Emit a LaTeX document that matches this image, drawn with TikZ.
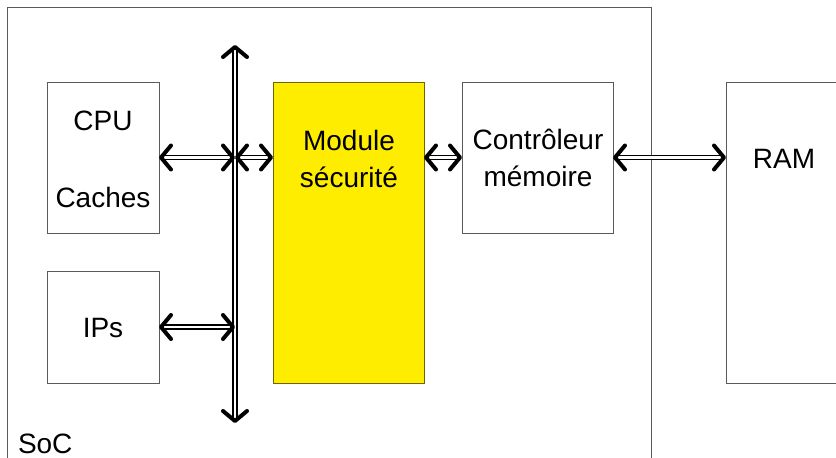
\documentclass[tikz,border=0pt]{standalone}
\usepackage{fontspec}
\setmainfont{Liberation Sans}
\usetikzlibrary{arrows.meta,calc}
\definecolor{boxline}{RGB}{90,90,90}
\definecolor{secline}{RGB}{110,100,0}
\definecolor{secyellow}{RGB}{255,237,0}
\newcommand\dblconn[2]{%
  \draw[shaft] (#1) -- (#2);
  \path[tipsend] (#1) -- (#2);}
\begin{document}
\begin{tikzpicture}[x=1pt,y=-1pt,
  every node/.style={font=\fontsize{28}{37}\selectfont, inner sep=0pt, outer sep=0pt},
  blk/.style={draw=boxline, line width=1pt, fill=white},
  txt/.style={align=center, text=black},
  shaft/.style={double=white, double distance=2.2pt, line width=1.7pt, draw=black,
    shorten <=3pt, shorten >=3pt},
  tipsend/.style={draw=none, black, line width=4pt, tips,
    >={Straight Barb[length=10pt,width=24pt,line width=4pt 0 1,round]}, <->},
]
\useasboundingbox (0,0) rectangle (836,458);
\clip (0,0) rectangle (836,458);
% SoC frame
\node[blk, anchor=north west, minimum width=644pt, minimum height=470pt] (soc) at (7.5,7.5) {};
\node[txt, anchor=base west] (soclbl) at (18,453) {SoC};
% blocks
\node[blk, anchor=north west, minimum width=112pt, minimum height=151pt] (cpu) at (47,82) {};
\node[txt] (cputxt) at (103,121) {CPU};
\node[txt] (cachtxt) at (103,197) {Caches};
\node[blk, anchor=north west, minimum width=112pt, minimum height=112pt] (ips) at (47,271) {};
\node[txt] (ipstxt) at (103,328) {IPs};
\node[blk, draw=secline, fill=secyellow, anchor=north west, minimum width=151pt, minimum height=301pt] (sec) at (273,82) {};
\node[txt] (sectxt) at (349,159) {Module\\sécurité};
\node[blk, anchor=north west, minimum width=151pt, minimum height=151pt] (mc) at (462,82) {};
\node[txt] (mctxt) at (538,158) {Contrôleur\\mémoire};
\node[blk, anchor=north west, minimum width=140pt, minimum height=301pt] (ram) at (726,82) {};
\node[txt] (ramtxt) at (784,159) {RAM};
% bus
\coordinate (bustop) at (235,45);
\coordinate (busbot) at (235,423);
\coordinate (bcpu) at (bustop |- cpu.east);
\coordinate (bips) at (bustop |- ips.east);
\coordinate (secw) at (sec.west |- cpu.east);
\coordinate (sece) at (sec.east |- mc.west);
\coordinate (ramw) at (ram.west |- mc.east);
\dblconn{bustop}{busbot}
% connectors
\dblconn{cpu.east}{bcpu}
\dblconn{bcpu}{secw}
\dblconn{ips.east}{bips}
\dblconn{sece}{mc.west}
\dblconn{mc.east}{ramw}
\end{tikzpicture}
\end{document}
